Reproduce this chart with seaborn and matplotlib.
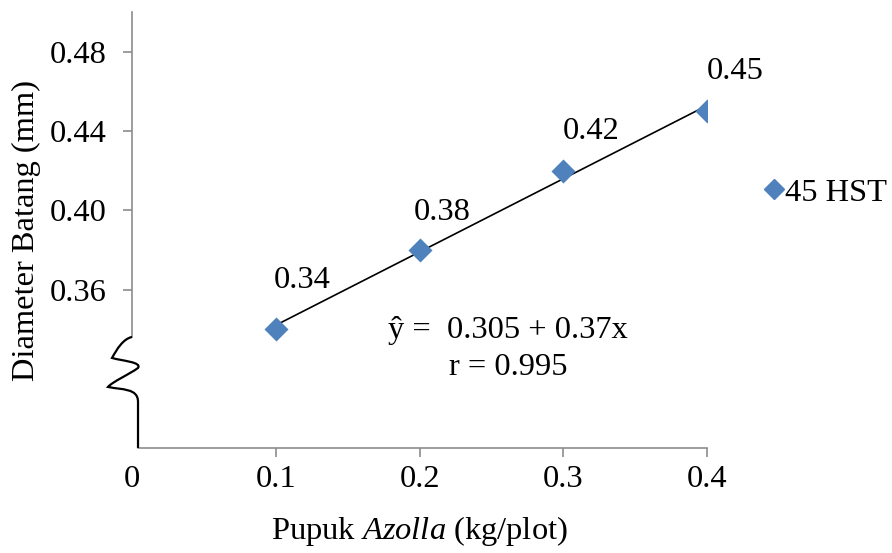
import numpy as np
import pandas as pd
import matplotlib
matplotlib.use("Agg")
import matplotlib.pyplot as plt
from matplotlib.path import Path
from matplotlib.patches import PathPatch
from matplotlib.lines import Line2D
import seaborn as sns

# Azolla dose (kg/plot) and stem diameter at 45 HST (mm)
dosis = [0.1, 0.2, 0.3, 0.4]
diameter = [0.34, 0.38, 0.42, 0.45]
x_ticks = [0, 0.1, 0.2, 0.3, 0.4]
x_ticklabels = ["0", "0.1", "0.2", "0.3", "0.4"]
y_ticks = [0.36, 0.40, 0.44, 0.48]
y_ticklabels = ["0.36", "0.40", "0.44", "0.48"]
series_name = "45 HST"
# regression summary as reported
eq_text = "ŷ =  0.305 + 0.37x"
r_text = "r = 0.995"

df = pd.DataFrame({"dosis": dosis, "diameter": diameter})

sns.set_style("white")
plt.rcParams["font.family"] = ["Liberation Serif", "DejaVu Serif"]
plt.rcParams["mathtext.fontset"] = "custom"
plt.rcParams["mathtext.rm"] = "Liberation Serif"
plt.rcParams["mathtext.it"] = "Liberation Serif:italic"
plt.rcParams["text.color"] = "black"
plt.rcParams["axes.labelcolor"] = "black"

FS = 23.4
BLUE = "#4F81BD"
AXIS_GRAY = "#8C8C8C"

fig = plt.figure(figsize=(8.92, 5.53), dpi=100)
ax = fig.add_axes([0.148, 0.19, 0.6446, 0.7874])

# linear trend line fitted on the data
sns.regplot(data=df, x="dosis", y="diameter", ax=ax, scatter=False, ci=None,
            truncate=True, line_kws=dict(color="black", lw=1.2))
sns.scatterplot(data=df, x="dosis", y="diameter", ax=ax, marker="D", s=150,
                color=BLUE, edgecolor=BLUE, linewidth=0, zorder=3, legend=False)

# value labels above each point (offsets in pixels)
label_offsets = [(26, -49), (23, -38), (28, -39), (28, -40)]
for (xv, yv), (dx, dy) in zip(zip(dosis, diameter), label_offsets):
    ax.annotate(f"{yv:.2f}", (xv, yv), xytext=(dx * 0.72, -dy * 0.72),
                textcoords="offset points", ha="center", va="center", fontsize=FS)

ax.text(0.2615, 0.3392, eq_text, fontsize=FS, ha="center", va="center")
ax.text(0.2620, 0.3205, r_text, fontsize=FS, ha="center", va="center")

ax.set_xlim(0, 0.4)
ax.set_ylim(0.28, 0.50)
ax.set_xticks(x_ticks)
ax.set_xticklabels(x_ticklabels)
ax.set_yticks(y_ticks)
ax.set_yticklabels(y_ticklabels)
ax.tick_params(axis="both", labelsize=FS, colors=AXIS_GRAY, labelcolor="black",
               length=6.5, width=1.2)
ax.tick_params(axis="y", pad=12, left=True)
ax.tick_params(axis="x", pad=6, bottom=True)
ax.xaxis.get_major_ticks()[0].tick1line.set_visible(False)

for side in ["top", "right"]:
    ax.spines[side].set_visible(False)
ax.spines["left"].set_color(AXIS_GRAY)
ax.spines["bottom"].set_color(AXIS_GRAY)
ax.spines["left"].set_linewidth(1.2)
ax.spines["bottom"].set_linewidth(1.2)
ax.spines["left"].set_bounds(0.3358, 0.50)
ax.spines["bottom"].set_bounds(0.0042, 0.4)

ax.set_xlabel(r"Pupuk $\mathit{Azolla}$ (kg/plot)", fontsize=FS, labelpad=14)
ax.set_ylabel("Diameter Batang (mm)", fontsize=FS, labelpad=6)

# axis-break squiggle, in pixel offsets from the axes' lower-left corner
w_px, h_px = 575.0, 435.5
def P(px, py):
    return ((px - 132) / w_px, (448 - py) / h_px)

verts = [P(132, 337),
         P(123, 339), P(117, 349), P(112, 358),
         P(122, 361), P(142, 362), P(138, 368),
         P(130, 374), P(112, 382), P(108, 387),
         P(122, 390), P(138, 388), P(138, 402),
         P(138, 448)]
codes = [Path.MOVETO,
         Path.CURVE4, Path.CURVE4, Path.CURVE4,
         Path.CURVE4, Path.CURVE4, Path.CURVE4,
         Path.CURVE4, Path.CURVE4, Path.CURVE4,
         Path.CURVE4, Path.CURVE4, Path.CURVE4,
         Path.LINETO]
ax.add_patch(PathPatch(Path(verts, codes), fill=False, edgecolor="black", lw=1.6,
                       transform=ax.transAxes, clip_on=False, zorder=4))

handle = Line2D([], [], marker="D", color=BLUE, linestyle="none", markersize=10.5)
fig.legend([handle], [series_name], loc="center left", bbox_to_anchor=(0.849, 0.651),
           frameon=False, fontsize=FS, handletextpad=-0.15, handlelength=1.0,
           borderaxespad=0, borderpad=0)

fig.savefig("out.png", dpi=100)
